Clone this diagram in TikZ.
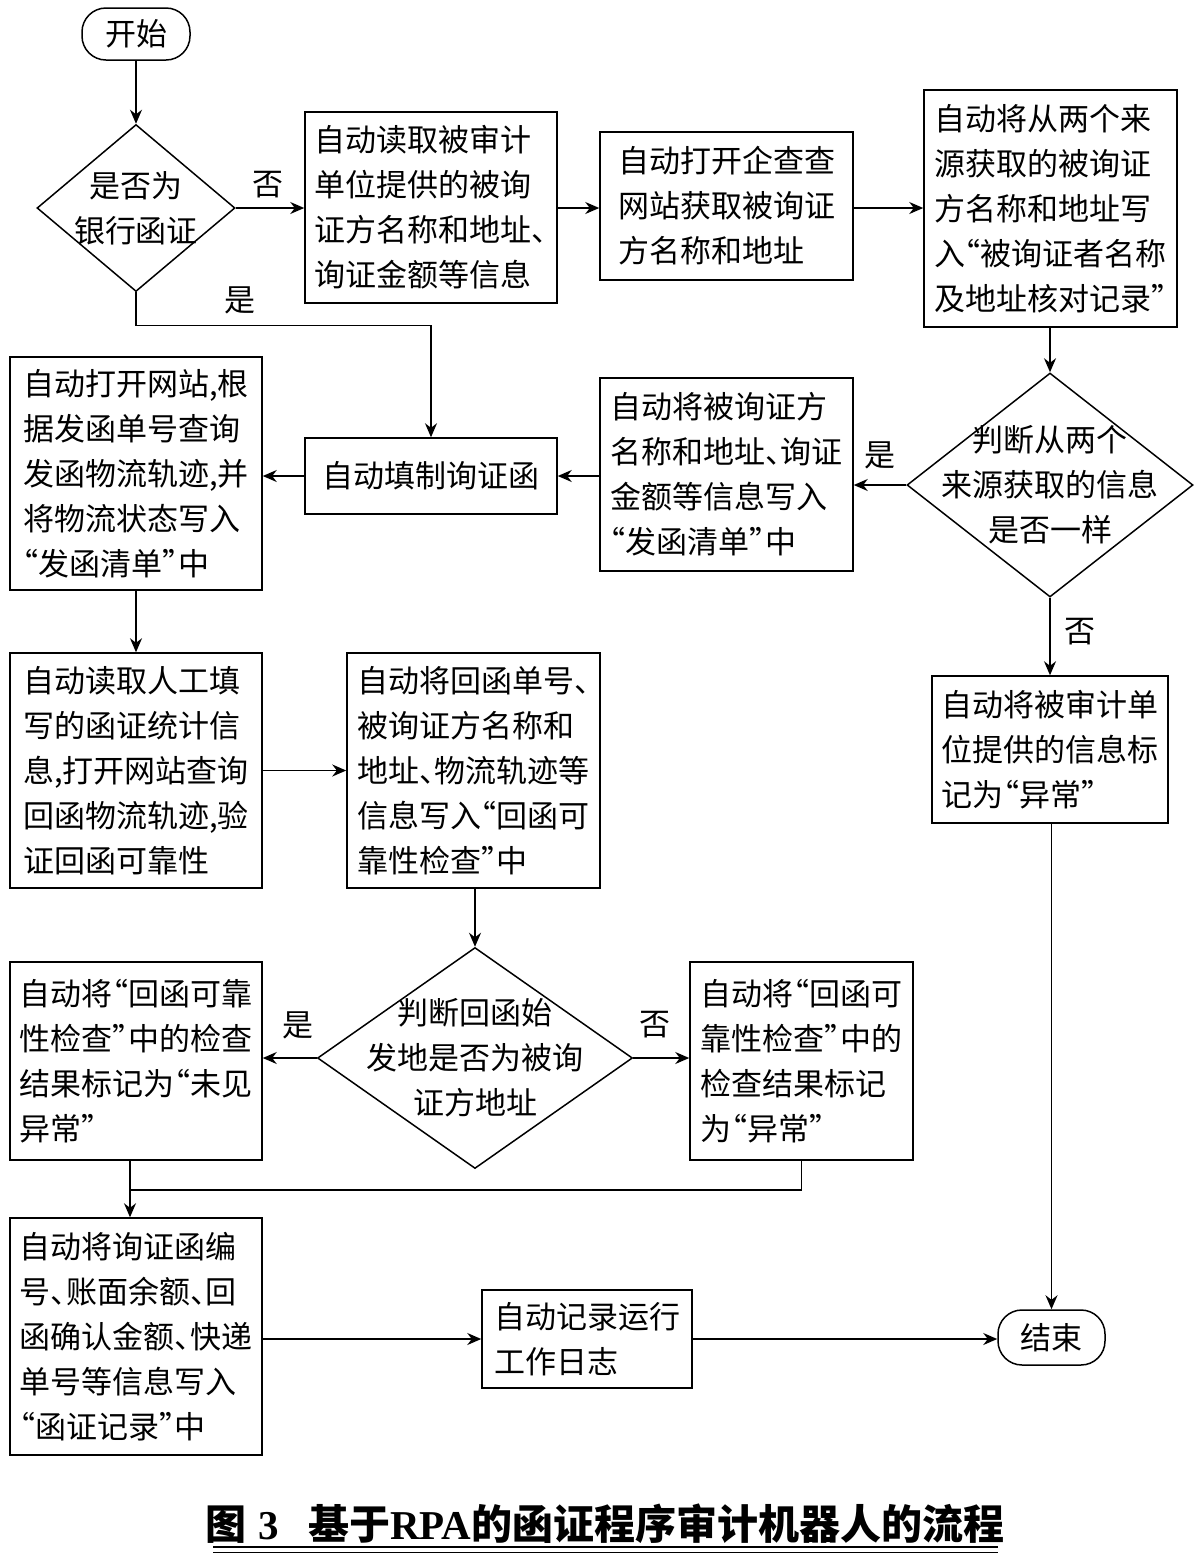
\documentclass[tikz,border=0pt]{standalone}
\usepackage{fontspec}
\setmainfont{Noto Sans CJK SC}
\newfontfamily\latfont{Liberation Serif}
\usetikzlibrary{arrows.meta,shapes.geometric}

\newcommand{\dun}{\makebox[0.5em][l]{、}}
\newcommand{\lqt}{\makebox[0.5em][r]{“}}
\newcommand{\rqt}{\makebox[0.5em][l]{”}}
\newcommand{\boxfont}{\fontsize{15.5}{22.5}\selectfont}

\begin{document}
\begin{tikzpicture}[x=0.5pt, y=-0.5pt, line width=0.75pt,
	box/.style 2 args={draw, minimum width=#1*0.5pt, minimum height=#2*0.5pt,
		inner sep=2pt, align=left, font=\boxfont},
	term/.style 2 args={draw, rounded corners=12pt, minimum width=#1*0.5pt,
		minimum height=#2*0.5pt, inner sep=0pt, font=\boxfont},
	dia/.style 2 args={draw, diamond, minimum width=#1*0.5pt,
		minimum height=#2*0.5pt, inner sep=0pt},
	diatext/.style={align=center, font=\boxfont},
	lbl/.style={font=\boxfont},
	arr/.style={-{Stealth[length=7pt, width=6pt]}}]

\path [use as bounding box] (0,0) rectangle (1200,1554);

% NODES
\node [term={108}{52}] (start) at (136,34) {开始};
\node [dia={198}{167}] (d1) at (136,208) {};
\node [diatext] at (d1) {是否为\\银行函证};
\node [box={252}{191}] (read) at (431,207.5)
	{自动读取被审计\\单位提供的被询\\证方名称和地址\dun\\询证金额等信息};
\node [box={253}{148}] (qcc) at (726.5,206)
	{自动打开企查查\\网站获取被询证\\方名称和地址};
\node [box={253}{237}] (check) at (1050.5,208.5)
	{自动将从两个来\\源获取的被询证\\方名称和地址写\\入\lqt 被询证者名称\\及地址核对记录\rqt};
\node [dia={286}{224}] (d2) at (1050,485) {};
\node [diatext] at (d2) {判断从两个\\来源获取的信息\\是否一样};
\node [box={253}{193}] (list) at (726.5,474.5)
	{自动将被询证方\\名称和地址\dun 询证\\金额等信息写入\\\lqt 发函清单\rqt 中};
\node [box={252}{76}] (fill) at (431,476) {自动填制询证函};
\node [box={252}{233}] (track) at (136,473.5)
	{自动打开网站,根\\据发函单号查询\\发函物流轨迹,并\\将物流状态写入\\\lqt 发函清单\rqt 中};
\node [box={236}{147}] (bad1) at (1050,749.5)
	{自动将被审计单\\位提供的信息标\\记为\lqt 异常\rqt};
\node [box={252}{235}] (stat) at (136,770.5)
	{自动读取人工填\\写的函证统计信\\息,打开网站查询\\回函物流轨迹,验\\证回函可靠性};
\node [box={253}{235}] (rely) at (473.5,770.5)
	{自动将回函单号\dun\\被询证方名称和\\地址\dun 物流轨迹等\\信息写入\lqt 回函可\\靠性检查\rqt 中};
\node [dia={315}{221}] (d3) at (475,1058) {};
\node [diatext] at (d3) {判断回函始\\发地是否为被询\\证方地址};
\node [box={252}{198}] (ok) at (136,1061)
	{自动将\lqt 回函可靠\\性检查\rqt 中的检查\\结果标记为\lqt 未见\\异常\rqt};
\node [box={223}{198}] (bad2) at (801.5,1061)
	{自动将\lqt 回函可\\靠性检查\rqt 中的\\检查结果标记\\为\lqt 异常\rqt};
\node [box={252}{237}] (rec) at (136,1336.5)
	{自动将询证函编\\号\dun 账面余额\dun 回\\函确认金额\dun 快递\\单号等信息写入\\\lqt 函证记录\rqt 中};
\node [box={210}{98}] (log) at (587,1339) {自动记录运行\\工作日志};
\node [term={107}{55}] (end) at (1051.5,1337.5) {结束};
\coordinate (jn) at (130,1190);

% CONNECTORS
\draw [arr] (start) -- (d1.north);
\draw [arr] (d1.east) -- (d1.east -| read.west);
\draw [arr] (read.east |- d1.east) -- (qcc.west |- d1.east);
\draw [arr] (qcc.east |- d1.east) -- (check.west |- d1.east);
\draw [arr] (check.south -| d2.north) -- (d2.north);
\draw [arr] (d2.west) -- (d2.west -| list.east);
\draw [arr] (list.west |- fill.east) -- (fill.east);
\draw [arr] (d1.south) -- ++(0,33) -| (fill.north);
\draw [arr] (fill.west) -- (fill.west -| track.east);
\draw [arr] (track.south) -- (stat.north);
\draw [arr] (stat.east) -- (rely.west);
\draw [arr] (rely.south -| d3.north) -- (d3.north);
\draw [arr] (d3.west) -- (d3.west -| ok.east);
\draw [arr] (d3.east) -- (d3.east -| bad2.west);
\draw [arr] (d2.south) -- (d2.south |- bad1.north);
\draw [arr] (bad1.south -| end.north) -- (end.north);
\draw (bad2.south) -- (bad2.south |- jn) -- (jn);
\draw [arr] (ok.south -| jn) -- (rec.north -| jn);
\draw [arr] (rec.east |- log.west) -- (log.west);
\draw [arr] (log.east) -- (log.east -| end.west);

% LABELS
\node [lbl] (no1) at (268,185) {否};
\node [lbl] (yes1) at (240,300) {是};
\node [lbl] (yes2) at (880,455) {是};
\node [lbl] (no2) at (1080,632) {否};
\node [lbl] (yes3) at (298,1025) {是};
\node [lbl] (no3) at (655,1025) {否};

% CAPTION
\node [font=\fontsize{20.5}{25}\selectfont\bfseries] (cap) at (605,1524)
	{图\hspace{0.3em}{\latfont 3}\hspace{0.7em}基于{\latfont RPA}的函证程序审计机器人的流程};
\draw [line width=1.3pt] (213,1547) -- (998,1547);
\draw [line width=0.5pt] (213,1552) -- (998,1552);

\end{tikzpicture}
\end{document}
